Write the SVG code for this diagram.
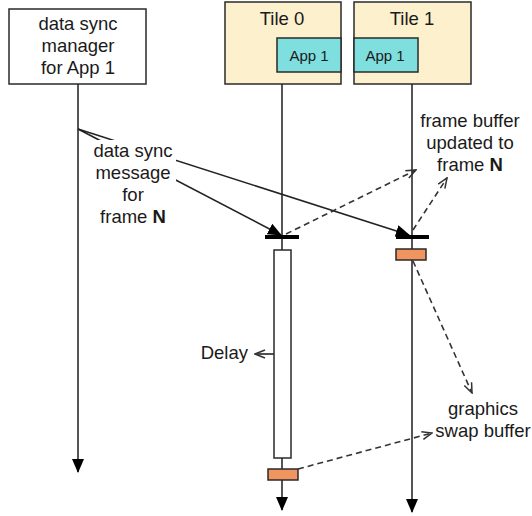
<svg xmlns="http://www.w3.org/2000/svg" width="532" height="516" viewBox="0 0 532 516">
  <style>
    text { font-family: "Liberation Sans", Arial, Helvetica, sans-serif; fill: #1a1a1a; }
    .lbl { font-size: 18.5px; text-anchor: middle; }
    .lbl-end { font-size: 18.5px; text-anchor: end; }
    .app { font-size: 15px; text-anchor: middle; }
    .box { stroke: #2a2a2a; stroke-width: 1.5; }
    .life { stroke: #555; stroke-width: 2; fill: none; }
    .msg { stroke: #222; stroke-width: 1.6; fill: none; }
    .dash { stroke: #333; stroke-width: 1.6; fill: none; stroke-dasharray: 6 4; }
  </style>
  <defs>
    <marker id="tri" viewBox="0 0 14 12" refX="13" refY="6" markerWidth="14" markerHeight="12" markerUnits="userSpaceOnUse" orient="auto">
      <path d="M0,0 L14,6 L0,12 z" fill="#000"/>
    </marker>
    <marker id="vee" viewBox="0 0 12 10" refX="11" refY="5" markerWidth="12" markerHeight="10" markerUnits="userSpaceOnUse" orient="auto">
      <path d="M1,1 L11,5 L1,9" fill="none" stroke="#333" stroke-width="1.5"/>
    </marker>
  </defs>

  <!-- lifelines -->
  <g id="lifelines">
    <line class="life" x1="78" y1="84" x2="78" y2="472" marker-end="url(#tri)"/>
    <line class="life" x1="282" y1="84" x2="282" y2="510" marker-end="url(#tri)"/>
    <line class="life" x1="412" y1="84" x2="412" y2="512" marker-end="url(#tri)"/>
  </g>

  <g id="manager">
    <rect class="box" x="9" y="9" width="137" height="75" fill="#fff"/>
    <text class="lbl" x="78" y="30">data sync</text>
    <text class="lbl" x="78" y="52">manager</text>
    <text class="lbl" x="78" y="74">for App 1</text>
  </g>

  <g id="tile0">
    <rect class="box" x="225" y="2" width="116" height="82" fill="#fdf0cd"/>
    <text class="lbl" x="282" y="25">Tile 0</text>
    <rect class="box" x="277" y="38" width="64" height="34" fill="#7fdede"/>
    <text class="app" x="309" y="61">App 1</text>
  </g>

  <g id="tile1">
    <rect class="box" x="354" y="2" width="117" height="82" fill="#fdf0cd"/>
    <text class="lbl" x="412" y="25">Tile 1</text>
    <rect class="box" x="354" y="38" width="64" height="34" fill="#7fdede"/>
    <text class="app" x="385" y="61">App 1</text>
  </g>

  <!-- messages and events -->
  <g id="connectors">
    <line class="msg" x1="78" y1="129" x2="281" y2="235" marker-end="url(#tri)"/>
    <line class="msg" x1="78" y1="129" x2="409" y2="235" marker-end="url(#tri)"/>
    <line class="dash" x1="286" y1="234" x2="416" y2="170" marker-end="url(#vee)"/>
    <line class="dash" x1="413" y1="230" x2="447" y2="178" marker-end="url(#vee)"/>
    <line class="dash" x1="413" y1="261" x2="472" y2="393" marker-end="url(#vee)"/>
    <line class="dash" x1="298" y1="469" x2="432" y2="433" marker-end="url(#vee)"/>
    <line class="msg" x1="274" y1="354" x2="255" y2="354" marker-end="url(#vee)"/>
  </g>

  <g id="sync-label">
    <rect x="88" y="140" width="88" height="88" fill="#fff"/>
    <text class="lbl" x="133" y="157">data sync</text>
    <text class="lbl" x="133" y="179">message</text>
    <text class="lbl" x="133" y="201">for</text>
    <text class="lbl" x="133" y="223">frame <tspan font-weight="bold">N</tspan></text>
  </g>

  <g id="tile0-activity">
    <rect x="265" y="235" width="34" height="4" fill="#000"/>
    <rect class="box" x="274" y="250" width="17" height="208" fill="#fff"/>
    <rect class="box" x="268" y="469" width="30" height="11" fill="#f0955f"/>
  </g>

  <g id="tile1-activity">
    <rect x="396" y="235" width="33" height="4" fill="#000"/>
    <rect class="box" x="396" y="249" width="30" height="11" fill="#f0955f"/>
  </g>

  <g id="fb-label">
    <text class="lbl" x="470" y="127">frame buffer</text>
    <text class="lbl" x="470" y="149">updated to</text>
    <text class="lbl" x="470" y="171">frame <tspan font-weight="bold">N</tspan></text>
  </g>

  <g id="delay-label">
    <text class="lbl-end" x="248" y="359">Delay</text>
  </g>

  <g id="swap-label">
    <text class="lbl" x="483" y="415">graphics</text>
    <text class="lbl" x="483" y="437">swap buffer</text>
  </g>
</svg>
